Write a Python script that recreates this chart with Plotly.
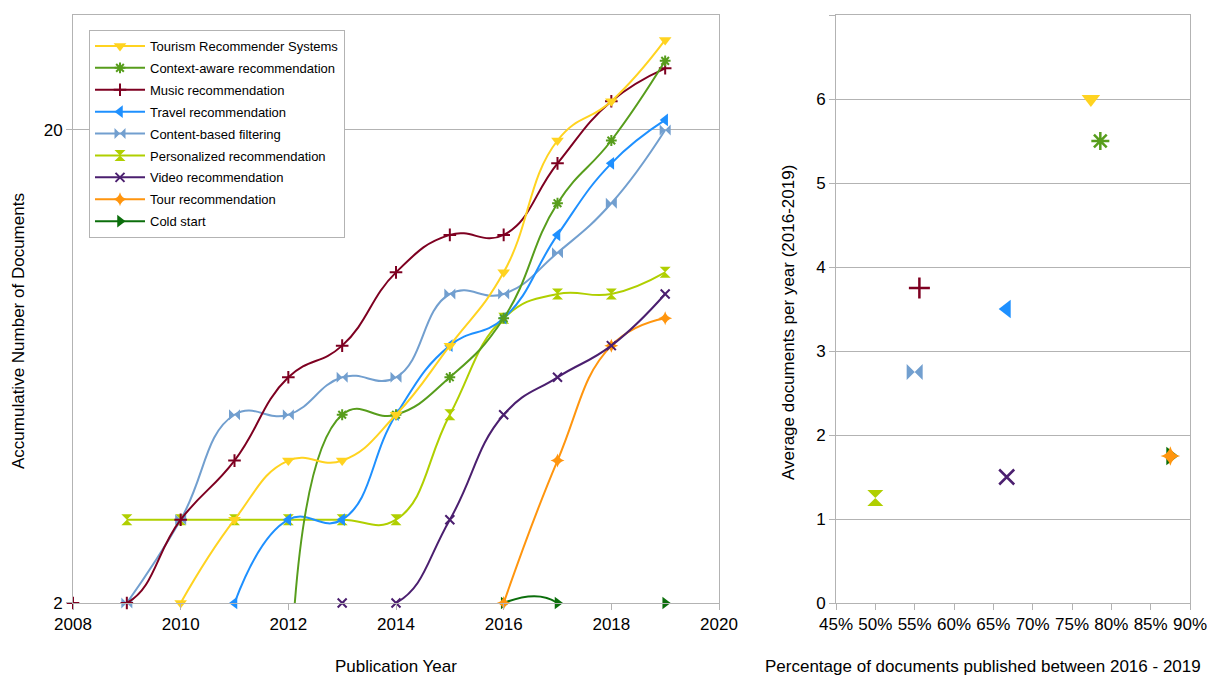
import plotly.graph_objects as go

# ---------------- data ----------------
years = [2008, 2009, 2010, 2011, 2012, 2013, 2014, 2015, 2016, 2017, 2018, 2019]

series_names = [
    "Tourism Recommender Systems",
    "Context-aware recommendation",
    "Music recommendation",
    "Travel recommendation",
    "Content-based filtering",
    "Personalized recommendation",
    "Video recommendation",
    "Tour recommendation",
    "Cold start",
]

tourism = [None, None, 2, 3, 4, 4, 5, 7, 10, 19, 23, 31]
context_aware = [None, None, None, None, 1, 5, 5, 6, 8, 14, 19, 28]
music = [2, 2, 3, 4, 6, 7, 10, 12, 12, 17, 23, 27]
travel = [None, None, None, 2, 3, 3, 5, 7, 8, 12, 17, 21]
content_based = [None, 2, 3, 5, 5, 6, 6, 9, 9, 11, 14, 20]
personalized = [None, 3, 3, 3, 3, 3, 3, 5, 8, 9, 9, 10]
video = [None, None, None, None, None, 2, 2, 3, 5, 6, 7, 9]
tour = [None, None, None, None, None, None, None, None, 2, 4, 7, 8]
cold_start = [None, None, None, None, None, None, None, None, 2, 2, 1, 2]

# right chart: share of documents published 2016-2019, and average per year
pct_recent = [0.774, 0.786, 0.556, 0.667, 0.55, 0.50, 0.667, 0.875, 0.875]
avg_per_year = [6.0, 5.5, 3.75, 3.5, 2.75, 1.25, 1.5, 1.75, 1.75]

left_x_ticks = [2008, 2010, 2012, 2014, 2016, 2018, 2020]
left_y_ticks = [2, 20]
right_x_ticks = [0.45, 0.50, 0.55, 0.60, 0.65, 0.70, 0.75, 0.80, 0.85, 0.90]

# ---------------- styles ----------------
colors = ["#ffd320", "#579d1c", "#7e0021", "#1e90ff", "#729fcf",
          "#b0cf00", "#4b1f6f", "#ff950e", "#0b6e0b"]
symbols = ["triangle-down", "asterisk-open", "cross-thin-open", "triangle-left",
           "bowtie", "hourglass", "x-thin-open", "star-diamond", "triangle-right"]
open_sym = [False, True, True, False, False, False, True, False, False]

left_values = [tourism, context_aware, music, travel, content_based,
               personalized, video, tour, cold_start]

FONT = "Liberation Sans, Arial, sans-serif"
GRID = "#b3b3b3"

fig = go.Figure()

# earlier series are drawn on top in the reference -> add in reverse order
for i in reversed(range(len(series_names))):
    mk = dict(symbol=symbols[i], size=11, color=colors[i])
    if open_sym[i]:
        mk["line"] = dict(color=colors[i], width=2)
        mk["size"] = 9
    else:
        mk["line"] = dict(width=0)
    if symbols[i] == "star-diamond":
        mk["size"] = 10
    fig.add_trace(go.Scatter(
        x=years, y=left_values[i], name=series_names[i],
        mode="lines+markers",
        line=dict(color=colors[i], width=2, shape="spline", smoothing=1.3),
        marker=mk, connectgaps=False, cliponaxis=False,
        legendrank=i + 1, legendgroup="g%d" % i, xaxis="x", yaxis="y",
    ))

for i in reversed(range(len(series_names))):
    mk = dict(symbol=symbols[i], size=16, color=colors[i])
    if open_sym[i]:
        mk["line"] = dict(color=colors[i], width=2.5)
        mk["size"] = 15
    else:
        mk["line"] = dict(width=0)
    if symbols[i] == "star-diamond":
        mk["size"] = 14
    fig.add_trace(go.Scatter(
        x=[pct_recent[i]], y=[avg_per_year[i]], name=series_names[i],
        mode="markers", marker=mk, showlegend=False, cliponaxis=False,
        xaxis="x2", yaxis="y2",
    ))

# The page body adds an 8px offset; work in screen pixels and shift.
OFF = 8
W, H = 1215 - OFF, 677 - OFF
PLOT_TOP, PLOT_BOT = 15 - OFF, 603 - OFF
T, B = PLOT_TOP, H - PLOT_BOT
PH = PLOT_BOT - PLOT_TOP


def px_x(p):
    return (p - OFF) / W


def px_y(p):
    return (PLOT_BOT - (p - OFF)) / PH


axis_common = dict(
    showline=True, linecolor=GRID, linewidth=1, mirror=True,
    ticks="outside", ticklen=6, tickcolor=GRID, tickwidth=1,
    tickfont=dict(family=FONT, size=17, color="#000"), zeroline=False,
    automargin=False,
)

fig.update_layout(
    width=W, height=H,
    margin=dict(l=0, r=0, t=T, b=B, pad=0, autoexpand=False),
    paper_bgcolor="white", plot_bgcolor="white",
    font=dict(family=FONT, size=17, color="#000"),
    xaxis=dict(domain=[px_x(73), px_x(719)], range=[2008, 2020],
               tickvals=left_x_ticks, showgrid=False, anchor="y", **axis_common),
    yaxis=dict(type="log", range=[0.30100, 1.544068], tickvals=left_y_ticks,
               showgrid=True, gridcolor=GRID, gridwidth=1, anchor="x", **axis_common),
    xaxis2=dict(domain=[px_x(836), px_x(1190)], range=[0.45, 0.90],
                tickvals=right_x_ticks, tickformat=".0%", showgrid=False,
                anchor="y2", **axis_common),
    yaxis2=dict(range=[0, 7], dtick=1, showgrid=True, gridcolor=GRID, gridwidth=1,
                anchor="x2", **axis_common),
    legend=dict(x=px_x(89), y=px_y(30), xanchor="left", yanchor="top",
                bgcolor="white", bordercolor=GRID, borderwidth=1,
                font=dict(family=FONT, size=13, color="#000"),
                traceorder="grouped", itemwidth=50, tracegroupgap=2),
    showlegend=True,
    annotations=[
        dict(text="Publication Year", x=px_x(396), y=px_y(666), xref="paper", yref="paper",
             showarrow=False, xanchor="center", yanchor="middle",
             font=dict(family=FONT, size=17, color="#000")),
        dict(text="Accumulative Number of Documents", x=px_x(19), y=px_y(331),
             xref="paper", yref="paper", showarrow=False, textangle=-90,
             xanchor="center", yanchor="middle",
             font=dict(family=FONT, size=17, color="#000")),
        dict(text="Percentage of documents published between 2016 - 2019", x=px_x(983),
             y=px_y(666), xref="paper", yref="paper", showarrow=False,
             xanchor="center", yanchor="middle",
             font=dict(family=FONT, size=17, color="#000")),
        dict(text="Average documents per year (2016-2019)", x=px_x(788), y=px_y(323),
             xref="paper", yref="paper", showarrow=False, textangle=-90,
             xanchor="center", yanchor="middle",
             font=dict(family=FONT, size=17, color="#000")),
    ],
)

fig.write_html("out.html")
